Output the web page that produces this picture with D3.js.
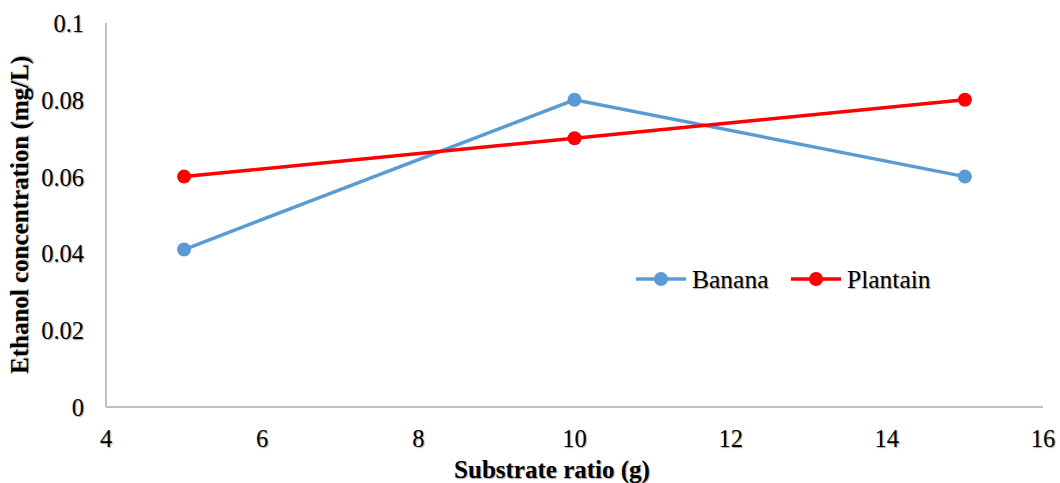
<!DOCTYPE html>
<html>
<head>
<meta charset="utf-8">
<script src="https://cdn.jsdelivr.net/npm/d3@7"></script>
<style>
  body { margin: 0; background: #fff; }
  text { font-family: "Liberation Serif", "Times New Roman", serif; fill: #000; text-shadow: 1px 1px 1px rgba(0,0,0,0.35); }
</style>
</head>
<body>
<div id="chart"></div>
<script>
// values
var substrate = [5, 10, 15];
var banana = [0.041, 0.08, 0.06];
var plantain = [0.06, 0.07, 0.08];
var seriesNames = ["Banana", "Plantain"];
var seriesColors = ["#5b9bd5", "#ff0000"];
var xTicks = [4, 6, 8, 10, 12, 14, 16];
var yTicks = [0, 0.02, 0.04, 0.06, 0.08, 0.1];

var width = 1060, height = 483;
var plotLeft = 106, plotRight = 1043, plotTop = 23, plotBottom = 407;

var svg = d3.select("#chart").append("svg")
	.attr("width", width)
	.attr("height", height);

var x = d3.scaleLinear().domain([4, 16]).range([plotLeft, plotRight]);
var y = d3.scaleLinear().domain([0, 0.1]).range([plotBottom, plotTop]);

//axis lines
svg.append("line")
	.attr("x1", plotLeft).attr("x2", plotLeft)
	.attr("y1", y(0.1)).attr("y2", y(0))
	.style("stroke", "#bfbfbf").style("stroke-width", 2);
svg.append("line")
	.attr("x1", plotLeft).attr("x2", plotRight)
	.attr("y1", y(0)).attr("y2", y(0))
	.style("stroke", "#bfbfbf").style("stroke-width", 2);

//tick labels
svg.selectAll(".ylab")
	.data(yTicks)
	.enter()
	.append("text")
	.attr("x", 84)
	.attr("y", function(d) { return y(d) + 9; })
	.attr("text-anchor", "end")
	.style("font-size", "24.5px")
	.text(function(d) { return d; });

svg.selectAll(".xlab")
	.data(xTicks)
	.enter()
	.append("text")
	.attr("x", function(d) { return x(d); })
	.attr("y", 447)
	.attr("text-anchor", "middle")
	.style("font-size", "24.5px")
	.text(function(d) { return d; });

//axis titles
svg.append("text")
	.attr("x", 552)
	.attr("y", 478)
	.attr("text-anchor", "middle")
	.style("font-size", "25px")
	.style("font-weight", "bold")
	.text("Substrate ratio (g)");

svg.append("text")
	.attr("transform", "translate(28," + ((plotTop + plotBottom) / 2) + ") rotate(-90)")
	.attr("text-anchor", "middle")
	.style("font-size", "25px")
	.style("font-weight", "bold")
	.text("Ethanol concentration (mg/L)");

//series
var allSeries = [banana, plantain];
var line = d3.line()
	.x(function(d, i) { return x(substrate[i]); })
	.y(function(d) { return y(d); });

allSeries.forEach(function(values, s) {
	svg.append("path")
		.datum(values)
		.attr("d", line)
		.style("fill", "none")
		.style("stroke", seriesColors[s])
		.style("stroke-width", 3.5);
	svg.selectAll(".dot" + s)
		.data(values)
		.enter()
		.append("circle")
		.attr("cx", function(d, i) { return x(substrate[i]); })
		.attr("cy", function(d) { return y(d); })
		.attr("r", 7)
		.style("fill", seriesColors[s]);
});

//legend
var legendX = [636, 791];
seriesNames.forEach(function(name, s) {
	var g = svg.append("g").attr("transform", "translate(" + legendX[s] + ",279)");
	g.append("line")
		.attr("x1", 0).attr("x2", 50)
		.style("stroke", seriesColors[s]).style("stroke-width", 3.5);
	g.append("circle")
		.attr("cx", 25).attr("r", 7)
		.style("fill", seriesColors[s]);
	g.append("text")
		.attr("x", 56).attr("y", 9)
		.style("font-size", "25.5px")
		.text(name);
});
</script>
</body>
</html>
